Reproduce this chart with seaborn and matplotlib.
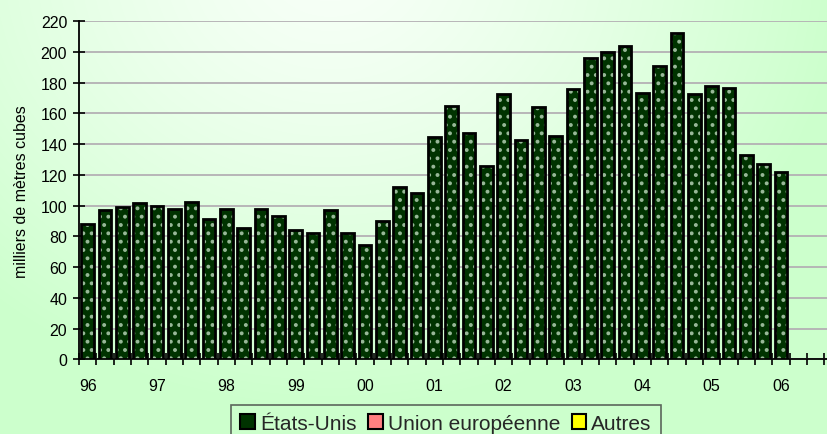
import numpy as np
import matplotlib
matplotlib.use("Agg")
import matplotlib.pyplot as plt
from matplotlib.patches import Patch
from matplotlib.ticker import FixedLocator, NullFormatter
import seaborn as sns

# Quarterly volumes (thousand cubic metres), 1996 Q1 to 2006 Q1
years = ["96", "97", "98", "99", "00", "01", "02", "03", "04", "05", "06"]
quarter_labels = [f"{y}T{q}" for y in years for q in range(1, 5)]
etats_unis = [88, 97, 99, 101.5, 100, 98, 102.5, 91, 98, 85.5,
              97.5, 93, 84, 82, 97, 82, 74.5, 90, 112, 108,
              144.5, 165, 147, 125.5, 172.5, 142.5, 164, 145.5, 176, 196,
              200, 203.5, 173.5, 190.5, 212.5, 172.5, 177.5, 176.5, 133, 127,
              122]
series_names = ["États-Unis", "Union européenne", "Autres"]
series_colors = ["#003300", "#ff8080", "#ffff00"]
y_ticks = list(range(0, 221, 20))

W, H = 828, 435
sns.set_theme(style="white")
plt.rcParams["font.family"] = ["Liberation Sans", "DejaVu Sans"]
plt.rcParams["hatch.linewidth"] = 1.6

fig = plt.figure(figsize=(W / 100, H / 100), dpi=100)

# soft white-to-green backdrop
bg = fig.add_axes([0, 0, 1, 1], zorder=-10)
yy, xx = np.mgrid[0:H, 0:W]
d = np.sqrt((xx - 330.0) ** 2 + ((yy + 40.0) * 1.15) ** 2)
t = np.clip(d / 520.0, 0, 1) ** 1.3
white = np.array([248, 255, 248]) / 255.0
green = np.array([204, 255, 204]) / 255.0
img = white[None, None, :] * (1 - t[..., None]) + green[None, None, :] * t[..., None]
bg.imshow(img, aspect="auto", interpolation="bilinear")
bg.axis("off")

ax = fig.add_axes([79 / W, (H - 360.3) / H, 762.7 / W, 338.3 / H])
ax.set_facecolor("none")

x_cats = quarter_labels[:len(etats_unis)]
# dotted fill
sns.barplot(x=x_cats, y=etats_unis, order=quarter_labels, ax=ax,
            color=series_colors[0], saturation=1, width=0.74,
            hatch="..", edgecolor="#98b898", linewidth=0, zorder=3)
# black outlines
sns.barplot(x=x_cats, y=etats_unis, order=quarter_labels, ax=ax,
            color="black", saturation=1, width=0.74, fill=False,
            linewidth=2.0, zorder=4)

ax.set_xlim(-0.5, len(quarter_labels) - 0.5)
ax.set_ylim(0, 220)
ax.set_yticks(y_ticks)
ax.set_yticklabels([str(v) for v in y_ticks], fontsize=11.5, color="black")

year_pos = list(range(0, len(quarter_labels), 4))
ax.set_xticks(year_pos)
ax.set_xticklabels(years, fontsize=11.5, color="black")
ax.xaxis.set_minor_locator(FixedLocator(np.arange(-0.5, len(quarter_labels), 1.0)))
ax.xaxis.set_minor_formatter(NullFormatter())
ax.tick_params(axis="x", which="major", length=0, pad=13.5)
ax.tick_params(axis="x", which="minor", direction="inout", length=8, width=1.2,
               color="black", bottom=True)
ax.tick_params(axis="y", direction="inout", length=8, width=1.2, color="black",
               pad=4.5, left=True)

ax.yaxis.grid(True, color="#b4b0b4", linewidth=1.3, zorder=0)
ax.xaxis.grid(False)
ax.set_axisbelow(True)

for side in ["top", "right"]:
    ax.spines[side].set_visible(False)
for side in ["left", "bottom"]:
    ax.spines[side].set_color("black")
    ax.spines[side].set_linewidth(1.3)

ax.set_xlabel("")
ax.set_ylabel("milliers de mètres cubes", fontsize=11.5, color="black")
ax.yaxis.set_label_coords(-0.066, 0.5)

handles = [
    Patch(facecolor=series_colors[0], edgecolor="black", linewidth=1.5),
    Patch(facecolor=series_colors[1], edgecolor="black", linewidth=1.5),
    Patch(facecolor=series_colors[2], edgecolor="black", linewidth=1.5),
]
leg = fig.legend(handles, series_names, loc="upper center",
                 bbox_to_anchor=(446 / W, (H - 406) / H), ncol=3,
                 fontsize=15, frameon=True, fancybox=False,
                 handlelength=0.7, handleheight=0.7, handletextpad=0.25,
                 columnspacing=0.55, borderpad=0.42, borderaxespad=0)
leg.get_frame().set_facecolor("none")
leg.get_frame().set_edgecolor("#404040")
leg.get_frame().set_linewidth(1.2)

fig.savefig("out.png", dpi=100)
